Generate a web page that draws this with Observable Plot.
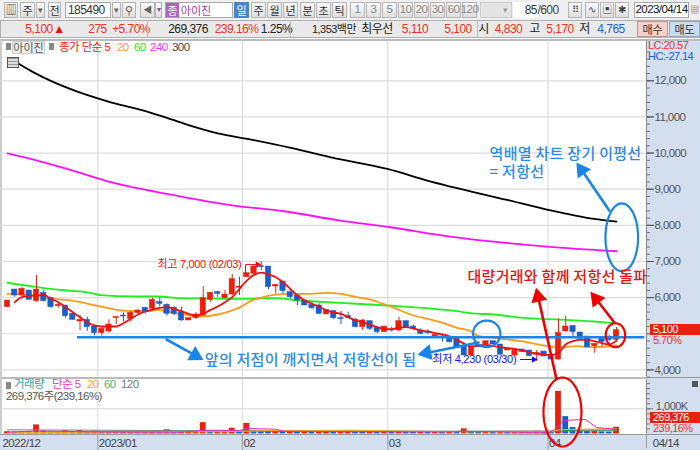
<!DOCTYPE html>
<html><head><meta charset="utf-8">
<script src="https://cdn.jsdelivr.net/npm/d3@7"></script>
<script src="https://cdn.jsdelivr.net/npm/@observablehq/plot@0.6"></script>
<style>
html,body{margin:0;padding:0;background:#fff}
#page{position:relative;width:700px;height:450px;overflow:hidden;font-family:"Liberation Sans","Noto Sans CJK KR",sans-serif;font-size:11.5px;letter-spacing:-0.55px;color:#333}
#page .b{position:absolute;box-sizing:border-box;display:flex;align-items:center;justify-content:center;white-space:nowrap;line-height:1}
#page svg{position:absolute;left:0;overflow:visible}
</style></head><body><div id="page"></div>
<script>
// ---------- price data (daily candles, 2022/12 .. 2023/04/14)
const opens=[5735,6224,6058,6197,5902,6132,5994,5763,5782,5551,5339,5385,5201,5016,5063,5431,5505,5413,5570,5717,5690,5874,5800,5717,5597,5367,5431,5505,5938,6150,5985,6086,6270,6565,6658,6870,6860,6307,6446,6150,6058,5920,5800,5782,5533,5625,5431,5496,5394,5182,5348,5164,5044,5118,5090,5348,5201,5090,5044,4887,4924,4924,4860,4648,4399,4694,4703,4794,4703,4537,4398,4565,4537,4426,4508,4398,4287,5063,5210,5035,4924,4657,4860,4870,4830];
const highs=[5920,6224,6289,6197,6611,6197,5994,5855,5782,5551,5505,5459,5201,5182,5385,5477,5579,5616,5662,5717,5985,5994,5828,5754,5736,5431,5579,6307,6150,6178,6197,6639,6565,6676,6888,7000,6860,6353,6446,6215,6058,5938,5874,5828,5662,5643,5616,5597,5413,5394,5348,5164,5201,5182,5459,5348,5229,5136,5109,4970,4952,4924,4860,4648,4647,4694,4794,4794,4703,4583,4556,4565,4537,4537,4508,4398,5413,5487,5229,5035,4924,4740,4878,4960,5170];
const lows=[5735,6012,6012,5938,5874,5874,5708,5708,5431,5385,5090,5063,4943,4933,5016,5256,5321,5321,5533,5551,5662,5735,5487,5505,5348,5367,5394,5477,5874,6012,5966,6058,6058,6565,6639,6750,6215,6104,6104,5966,5782,5782,5671,5524,5533,5394,5256,5413,5164,5090,5090,4998,5044,5044,5063,5155,5090,4970,4980,4887,4767,4740,4611,4399,4398,4629,4703,4703,4418,4537,4398,4490,4370,4230,4370,4287,4270,5044,4924,4860,4629,4463,4629,4780,4765];
const closes=[5920,6058,6243,5938,6224,5902,5735,5800,5487,5385,5385,5182,5016,5136,5256,5459,5477,5579,5643,5597,5938,5828,5551,5551,5367,5431,5533,5985,6132,6104,6086,6510,6307,6676,6860,6842,6289,6353,6178,6012,5920,5782,5708,5551,5662,5431,5404,5431,5182,5367,5136,5044,5201,5090,5348,5155,5136,4998,5016,4970,4887,4767,4611,4399,4647,4629,4794,4703,4418,4583,4556,4490,4380,4473,4370,4287,5026,5201,5044,4860,4629,4721,4767,4830,5100];
// ---------- moving averages
const ma5Idx=[1,2,3,4,5,6,7,8,9,10,11,12,13,14,15,16,17,18,19,20,21,22,23,24,25,26,27,28,29,30,31,32,33,34,35,36,37,38,39,40,41,42,43,44,45,46,47,48,49,50,51,52,53,54,55,56,57,58,59,60,61,62,63,64,65,66,67,68,69,70,71,72,73,74,75,76,77,78,79,80,81,82,83,84];
const ma5Val=[5874,6012,6049,6058,6077,5966,5874,5736,5597,5459,5321,5229,5201,5201,5201,5293,5413,5533,5616,5671,5717,5736,5690,5625,5551,5505,5551,5662,5754,5874,6012,6243,6473,6630,6694,6639,6565,6427,6243,6058,5920,5828,5754,5643,5588,5551,5459,5367,5321,5256,5182,5136,5127,5164,5182,5145,5090,5063,5016,4980,4924,4832,4721,4648,4680,4690,4656,4628,4601,4582,4536,4490,4444,4426,4416,4472,4702,4794,4831,4831,4794,4739,4702,4810];
const ma20Idx=[0,4,6.5,9,11.5,13.3,15,17.4,19.3,20.6,23,25.2,26.6,29,31.2,32.1,33.5,34.9,36.7,39,41.3,44.1,45.9,48.2,50.5,52.4,54.2,56,57.9,59.7,62,63.9,64.8,67.1,70.8,74,76.3,78.6,80,82.7,84];
const ma20Val=[6104,6058,5966,5920,5809,5736,5662,5625,5625,5662,5570,5505,5477,5533,5662,5736,5902,5994,6077,6104,6104,6132,6104,6012,5920,5782,5643,5505,5413,5321,5164,5072,4952,4887,4795,4675,4629,4657,4629,4648,4675];
const ma60Idx=[0,3.6,5.9,8.2,11.5,12.8,17.4,20.6,23.9,27.5,32,36.7,40.4,45.9,52.4,57.4,62,63.9,67.1,71.7,76.3,80.9,83.6];
const ma60Val=[6409,6307,6243,6197,6132,6067,6031,6031,5985,5975,5966,5985,5920,5855,5782,5717,5625,5570,5533,5431,5394,5339,5293];
const ma240Idx=[0,3.6,8.2,13.8,22,31.2,38.1,45.9,52.8,61.1,74.4,84];
const ma240Val=[9994,9820,9562,9220,8871,8547,8390,8132,7947,7690,7413,7283];
const ma300Idx=[1.6,3.6,5.9,8.9,13.8,18.4,22,25.2,29,33.6,39.1,44.6,52.4,57.9,68.9,74.4,80.9,84];
const ma300Val=[12467,12234,12005,11756,11432,11194,10973,10760,10547,10373,10143,9883,9562,9239,8705,8437,8179,8105];
// ---------- volume (thousand shares)
const volumes=[90,80,95,100,360,110,80,70,130,90,140,90,110,100,90,85,80,95,70,90,100,75,165,90,95,100,105,450,85,95,100,230,90,420,120,110,100,110,95,110,85,100,80,90,100,85,95,105,80,75,95,70,90,85,100,75,70,80,75,85,80,90,85,205,70,60,75,70,85,75,80,90,100,110,85,70,1690,690,256,120,100,110,85,79,269];
const vma5Idx=[0,4,7,12,20,24,27,30,32,33,37,38,48,60,63,68,74.7,76.1,76.7,79.7,81.3,84];
const vma5Val=[70,120,110,80,70,70,150,150,130,220,190,110,90,80,100,90,40,320,540,576,256,190];
const vma20Idx=[0,4,13,24,30,37,48,60,70,75,76,84];
const vma20Val=[60,60,70,85,90,140,150,90,85,85,170,215];
const vma60Idx=[0,4,13,20,27,46,64,76,78,84];
const vma60Val=[65,70,100,100,115,110,100,100,160,165];
const vma120Idx=[0,13,30,47,60,84];
const vma120Val=[165,150,125,118,110,130];
// ---------- axes and labels
const monthTicks=[12.45,32.4,52.45,74.55];
const monthLabels=["2023/01","02","03","04"];
const priceTicks=[4000,5000,6000,7000,8000,9000,10000,11000,12000];
const priceLabels=[4000,6000,7000,8000,9000,10000,11000,12000];
const priceMinor=d3.range(3800,13000,200);
const supportLevel=4904;
// ---------- annotations
const ellipses=[
 {cx:66.1,cy:4999,rx:1.89,ry:368,c:"#1a85e8"},
 {cx:83.86,cy:4960,rx:1.34,ry:332,c:"#f00000"},
 {cx:76.55,cy:2835,rx:2.62,ry:954,c:"#f00000"},
 {cx:84.73,cy:7668,rx:2.25,ry:940,c:"#1a85e8"}];
const arrows=[
 {x1:21.93,y1:4841,x2:25.9,y2:4400,rot:119.5,c:"#1a85e8"},
 {x1:64.97,y1:4758,x2:57.8,y2:4470,rot:-101,c:"#1a85e8"},
 {x1:75.7,y1:3762,x2:73.2,y2:6020,rot:-13,c:"#f00000"},
 {x1:83.7,y1:5311,x2:81.2,y2:5960,rot:-38,c:"#f00000"},
 {x1:83.0,y1:8409,x2:79.2,y2:9530,rot:-34.6,c:"#1a85e8"}];
const notes=[
 {x:27.2,y:4260,t:"앞의 저점이 깨지면서 저항선이 됨",c:"#2f8ae6"},
 {x:63.45,y:6556,t:"대량거래와 함께 저항선 돌파",c:"#f01010"},
 {x:66.5,y:9972,t:"역배열 차트 장기 이평선",c:"#2f8ae6"},
 {x:66.5,y:9468,t:"= 저항선",c:"#2f8ae6"}];
const smallNotes=[
 {x:20.69,y:6915,t:"최고 7,000 (02/03)",c:"#f01010"},
 {x:58.6,y:4288,t:"최저 4,230 (03/30)",c:"#1010f0"}];

const RED="#e8200c",BLUE="#1a5fc8",KR='"Noto Sans CJK KR"',LATIN='"Liberation Sans","Noto Sans CJK KR"';
const KRC='letter-spacing:0;font-size:11px;font-family:"Noto Sans CJK KR";';
const xScale={domain:[-0.966,88.14],range:[0,646],axis:null};
const zip=(a,b)=>a.map((x,k)=>({x,y:b[k]}));
const page=document.getElementById("page");
function box(x,y,w,h,t,css){const d=document.createElement("div");d.className="b";
 d.style.cssText=`left:${x}px;top:${y}px;width:${w}px;height:${h}px;${css||""}`;d.textContent=t||"";page.appendChild(d);return d;}
const btn="border:1px solid #b5b5b5;background:linear-gradient(#fafafa,#dedede);";
const field="border:1px solid #aaa;background:#fff;";

// ---------- backgrounds
box(0,0,700,20,"","background:#efefef");
box(0,20,700,18,"","background:#e9e9e9;border:1px solid #b0b0b0");
box(0,38,700,412,"","background:#fff");
box(646,40,54,394,"","background:#d3dfee");
box(0,434,700,16,"","background:#d3dfee;border-top:1px solid #999");
box(0,39,700,2,"","background:#bbb");
box(0,377,646,2,"","background:#bbb");
box(646,377,54,1,"","background:#999");
box(0,40,2,394,"","background:#ccc");

// ---------- toolbar row 1
box(4,2,14,16,"▥",btn+"font-size:11px");
box(20,2,15,16,"주",btn+KRC);box(36,2,9,16,"▾",btn+"font-size:9px;color:#666");
box(48,2,13,16,"전",btn+KRC);
box(65,2,46,16,"185490",field+"justify-content:flex-start;padding-left:2px;font-size:12px");
box(112,2,9,16,"▾",btn+"font-size:9px;color:#666");
box(122,2,14,16,"⚲",btn+"font-size:11px;color:#666");
box(140,2,15,16,"◀",btn+"font-size:9px;color:#666");box(155,2,7,16,"▾",btn+"font-size:8px;color:#666");
box(165,2,68,16,"",field);
box(166,3,13,14,"종",KRC+"background:#b060c0;color:#fff");
box(181,3,30,14,"아이진",KRC+"color:#a040b0");
box(234,2,15,16,"일",KRC+"background:#4a86c5;color:#fff");
[["주",251],["월",267],["년",283],["분",300],["초",316],["틱",332]].forEach(([t,x])=>box(x,2,15,16,t,btn+KRC));
[["1",350],["3",366],["5",382],["10",398],["20",414],["30",430],["60",446],["120",462]].forEach(([t,x])=>box(x,2,15,16,t,btn+"color:#888"));
box(480,2,32,16,"▾","background:#e4e4e4;border:1px solid #ccc;justify-content:flex-end;padding-right:4px;color:#999;font-size:9px");
box(513,2,25,16,"85",field+"border:none;justify-content:flex-end;padding-right:1px;font-size:12px");
box(538,2,20,16,"/600","color:#444;font-size:12px");
[["⠿",568],["∿",585],["▣",600],["✱",615]].forEach(([t,x])=>box(x,2,14,16,t,btn+"font-size:10px;color:#444"));
box(634,2,55,16,"2023/04/14",field+"font-size:11.5px;color:#111");
box(690,2,9,16,"▦","font-size:9px;color:#666");

// ---------- toolbar row 2
const quote=[["5,100",27,24,"#f03020",12],["▲",53,12,"#e81000",12],["275",90,15,"#f03020",12],["+5.70%",115,32,"#f03020",12],["269,376",170,36,"#222",12],["239.16%",219,35,"#f03020",12],["1.25%",264,25,"#222",12],["1,353백만",311,46,"#222",11],["최우선",362,30,"#222",12],["5,110",402,26,"#f03020",12],["5,100",445,26,"#f03020",12],["시",479,9,"#222",12],["4,830",495,27,"#f03020",12],["고",530,9,"#222",12],["5,170",547,26,"#f03020",12],["저",580,9,"#222",12],["4,765",598,26,"#2060d0",12]];
quote.forEach(([t,x,w,c,fs])=>box(x,21,w,16,t,`color:${c};font-size:${fs}px`));
box(147,20,1,18,"","background:#bbb");box(290,20,1,18,"","background:#bbb");box(477,20,1,18,"","background:#bbb");
box(637,21,31,16,"매수",KRC+"background:#f5cfc8;border:1px solid #b09a9a");
box(669,21,31,16,"매도",KRC+"background:#c6dcf0;border:1px solid #9aa9b5");

// ---------- volume chart (below)
const volData=volumes.map((v,i)=>({i,v,up:i===0||v>=volumes[i-1]}));
const vol=Plot.plot({width:700,height:72,marginLeft:0,marginRight:54,marginTop:0,marginBottom:16,
 style:{background:"transparent",fontFamily:LATIN,fontSize:"11px",letterSpacing:"-0.5px",overflow:"visible"},
 x:xScale,y:{domain:[0,1000],range:[55.5,30.3],axis:null},color:{type:"identity"},
 marks:[
  Plot.ruleY([1000],{stroke:"#d8d8d8",x1:-0.966,x2:88.14}),
  Plot.ruleX(monthTicks,{stroke:"#dcdcdc",y1:0,y2:2150}),
  Plot.rect(volData,{x1:d=>d.i-0.4,x2:d=>d.i+0.4,y1:0,y2:"v",fill:d=>d.up?RED:BLUE}),
  Plot.line(zip(vma120Idx,vma120Val),{x:"x",y:"y",stroke:"#808080",strokeWidth:1}),
  Plot.line(zip(vma60Idx,vma60Val),{x:"x",y:"y",stroke:"#1f9a50",strokeWidth:1}),
  Plot.line(zip(vma20Idx,vma20Val),{x:"x",y:"y",stroke:"#f4a820",strokeWidth:1}),
  Plot.line(zip(vma5Idx,vma5Val),{x:"x",y:"y",stroke:"#e030c0",strokeWidth:1}),
  Plot.axisY(d3.range(200,2200,200),{anchor:"right",tickSize:3,fill:"none",stroke:"#777",label:null}),
  Plot.axisY([1000],{anchor:"right",tickSize:6,fill:"none",stroke:"#777",label:null}),
  Plot.text(["1,000K"],{x:[88.6],y:[1000],text:d=>d,dx:6,dy:-2,textAnchor:"start",fill:"#555",fontSize:11}),
  Plot.ruleX([88.14],{y1:0,y2:2150,stroke:"#888"}),
  Plot.axisX(monthTicks,{anchor:"bottom",tickSize:16,fill:"none",stroke:"#999",label:null}),
  Plot.text(monthLabels,{x:(d,k)=>monthTicks[k],text:d=>d,frameAnchor:"bottom",textAnchor:"start",dx:1,dy:12,fill:"#444",fontSize:11.5}),
  Plot.text(["2022/12"],{x:[-0.7],text:d=>d,frameAnchor:"bottom",textAnchor:"start",dy:12,fill:"#444",fontSize:11.5}),
  Plot.ruleX([88.14],{y1:-590,y2:0,stroke:"#999"}),
  Plot.text(["04/14"],{x:[89],text:d=>d,frameAnchor:"bottom",textAnchor:"start",dy:12,fill:"#444",fontSize:11.5})
 ]});
vol.style.top="378px";page.appendChild(vol);

// ---------- price chart (above, spans down so that annotations can cross panels)
const bars=opens.map((o,i)=>({i,o,h:highs[i],l:lows[i],c:closes[i]}));
const tone=d=>d.c>=d.o?RED:BLUE;
const ellipsePts=ellipses.flatMap((e,k)=>d3.range(0,361,6).map(a=>({k,c:e.c,x:e.cx+e.rx*Math.cos(a*Math.PI/180),y:e.cy+e.ry*Math.sin(a*Math.PI/180)})));
const arrowLines=arrows.flatMap((a,k)=>[{k,c:a.c,x:a.x1,y:a.y1},{k,c:a.c,x:a.x2,y:a.y2}]);
const price=Plot.plot({width:700,height:410,marginLeft:0,marginRight:54,marginTop:0,marginBottom:0,
 style:{background:"transparent",fontFamily:LATIN,fontSize:"11.5px",overflow:"visible"},
 x:xScale,y:{domain:[4000,12000],range:[329.4,40.3],axis:null},color:{type:"identity"},
 marks:[
  Plot.ruleY(priceTicks,{stroke:"#dcdcdc",strokeWidth:1.2,x1:-0.966,x2:88.14}),
  Plot.ruleX(monthTicks,{stroke:"#dcdcdc",strokeWidth:1.2,y1:3800,y2:13100}),
  Plot.ruleX([88.14],{y1:3800,y2:13100,stroke:"#888"}),
  Plot.axisY(priceMinor,{anchor:"right",tickSize:3,fill:"none",stroke:"#777",label:null}),
  Plot.axisY(priceTicks,{anchor:"right",tickSize:7,fill:"none",stroke:"#777",label:null}),
  Plot.axisY(priceLabels,{anchor:"right",tickSize:7,tickPadding:1,tickFormat:d3.format(","),color:"#555",label:null}),
  Plot.line(zip(ma300Idx,ma300Val),{x:"x",y:"y",stroke:"#000",strokeWidth:1.8,curve:"monotone-x"}),
  Plot.line(zip(ma240Idx,ma240Val),{x:"x",y:"y",stroke:"#ff10ff",strokeWidth:1.8,curve:"monotone-x"}),
  Plot.line(zip(ma60Idx,ma60Val),{x:"x",y:"y",stroke:"#22ee22",strokeWidth:1.8,curve:"monotone-x"}),
  Plot.line(zip(ma20Idx,ma20Val),{x:"x",y:"y",stroke:"#ff9a1a",strokeWidth:1.8,curve:"monotone-x"}),
  Plot.ruleX(bars,{x:"i",y1:"l",y2:"h",stroke:tone,strokeWidth:1}),
  Plot.rect(bars,{x1:d=>d.i-0.37,x2:d=>d.i+0.37,y1:"o",y2:"c",fill:tone,stroke:tone,strokeWidth:0.5}),
  Plot.line(zip(ma5Idx,ma5Val),{x:"x",y:"y",stroke:"#f01010",strokeWidth:1.8,curve:"monotone-x"}),
  Plot.ruleY([supportLevel],{x1:9.66,x2:87.9,stroke:"#1a85e8",strokeWidth:2.6}),
  Plot.line(ellipsePts,{x:"x",y:"y",z:"k",stroke:"c",strokeWidth:2.2}),
  Plot.line(arrowLines,{x:"x",y:"y",z:"k",stroke:"c",strokeWidth:2.6}),
  Plot.dot(arrows,{x:"x2",y:"y2",symbol:"triangle",r:6,rotate:"rot",fill:"c",stroke:"none"}),
  Plot.line([{x:32.83,y:6639},{x:32.83,y:6915},{x:34.3,y:6915}],{x:"x",y:"y",stroke:"#f01010",strokeWidth:1}),
  Plot.dot([{x:34.5,y:6915}],{x:"x",y:"y",symbol:"triangle",r:2.5,rotate:90,fill:"#f01010",stroke:"none"}),
  Plot.line([{x:70.76,y:4288},{x:72.4,y:4288}],{x:"x",y:"y",stroke:"#1010f0",strokeWidth:1}),
  Plot.dot([{x:72.6,y:4288}],{x:"x",y:"y",symbol:"triangle",r:2.5,rotate:90,fill:"#1010f0",stroke:"none"}),
  Plot.text(notes,{x:"x",y:"y",text:"t",fill:"c",textAnchor:"start",fontSize:15,fontWeight:500,fontFamily:KR}),
  Plot.text(smallNotes,{x:"x",y:"y",text:"t",fill:"c",textAnchor:"start",fontSize:11})
 ]});
price.querySelectorAll('g[aria-label="y-axis tick label"]').forEach(g=>g.style.letterSpacing="-0.6px");
const textGroups=price.querySelectorAll('g[aria-label="text"]');
if(textGroups.length>1){textGroups[0].style.letterSpacing="0.28px";textGroups[1].style.letterSpacing="-0.3px";}
price.style.top="40px";page.appendChild(price);

// ---------- panel legends and live value labels
const legend=(t,x,y,c,w)=>box(x,y,w,11,t,`color:${c};justify-content:flex-start;font-size:11.5px`);
box(6,43,5,7,"","background:#888");box(12,41,33,13,"아이진",KRC+"background:#eee;border:1px solid #ccc;color:#555");box(49,43,5,7,"","background:#888");
legend("종가 단순 5",59,42,"#f02020",54);legend("20",117,42,"#ffa030",12);legend("60",134,42,"#30e030",12);legend("240",150,42,"#ff30ff",18);legend("300",172,42,"#444",18);
box(7,57,12,11,"","background:repeating-linear-gradient(#999 0 1px,#ddd 1px 3px);border:1px solid #555");
box(6,382,5,7,"","background:#888");
legend("거래량",14,379,"#30a0a0",31);legend("단순 5",52,379,"#e040c0",30);legend("20",87,379,"#f4a820",12);legend("60",104,379,"#40b870",12);legend("120",121,379,"#777",18);
legend("269,376주(239,16%)",6,391,"#555",92);
const side="justify-content:flex-start;font-size:11px;";
box(648,40.5,50,10,"LC:20.57",side+"color:#f03030");
box(648,51,50,10,"HC:-27.14",side+"color:#2060d0");
box(650,324,50,10.5,"5,100",side+"background:#e8200c;color:#fff;padding-left:3px");
box(653,335,44,10,"5.70%",side+"color:#f03030");
box(650,412,50,10.5,"269,376",side+"background:#e8200c;color:#fff;padding-left:3px");
box(653,423,44,10.5,"239,16%",side+"color:#f03030");
box(692,381,6,6,"","background:#555");
</script></body></html>
